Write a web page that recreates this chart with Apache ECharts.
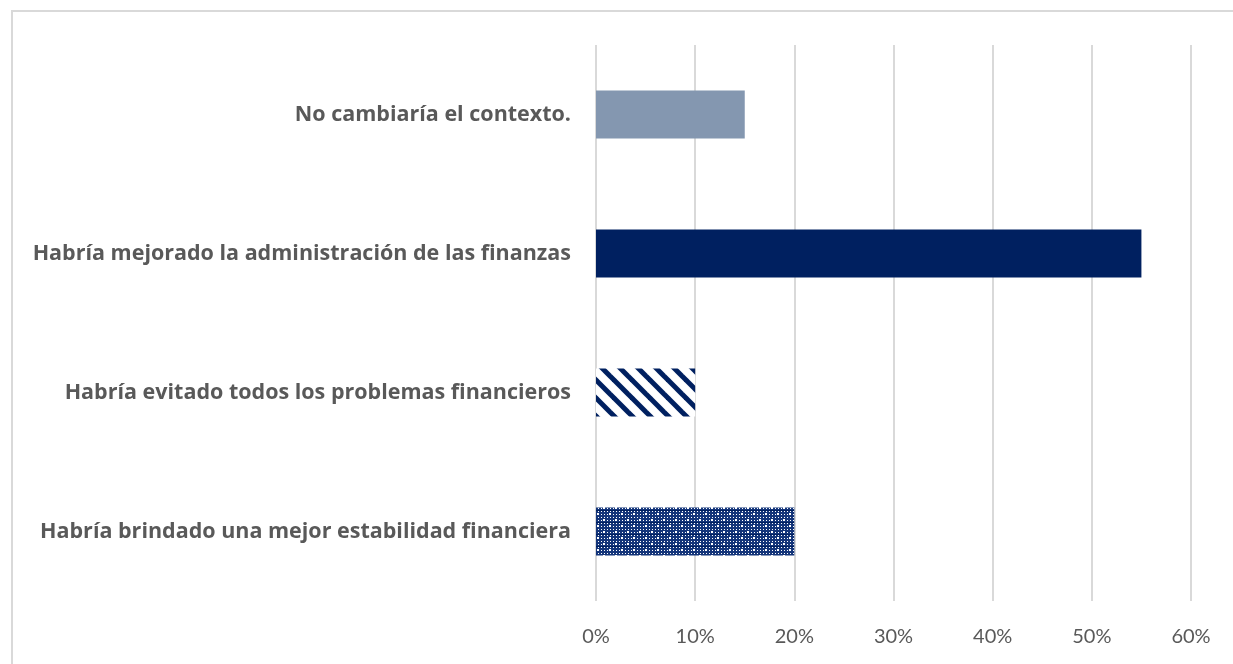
<!DOCTYPE html>
<html>
<head>
<meta charset="utf-8">
<script src="https://cdn.jsdelivr.net/npm/echarts@6/dist/echarts.min.js"></script>
<style>
  html, body { margin: 0; padding: 0; background: #fff; }
  #main { width: 1233px; height: 664px; }
</style>
</head>
<body>
<div id="main"></div>
<script>
// categorias de arriba hacia abajo
var categories = [
  "No cambiaría el contexto.",
  "Habría mejorado la administración de las finanzas",
  "Habría evitado todos los problemas financieros",
  "Habría brindado una mejor estabilidad financiera"
];
var values = [0.15, 0.55, 0.10, 0.20];
var tickLabels = ["0%", "10%", "20%", "30%", "40%", "50%", "60%"];

// trama de rayas diagonales
function stripePattern() {
  var c = document.createElement("canvas");
  c.width = 18; c.height = 18;
  var ctx = c.getContext("2d");
  ctx.fillStyle = "#fff";
  ctx.fillRect(0, 0, 18, 18);
  ctx.strokeStyle = "#002060";
  ctx.lineWidth = 5;
  for (var k = -2; k <= 2; k++) {
    ctx.beginPath();
    ctx.moveTo(k * 18 - 2, -2);
    ctx.lineTo(k * 18 + 20, 20);
    ctx.stroke();
  }
  return c;
}

// trama de puntos
function dotPattern() {
  var c = document.createElement("canvas");
  c.width = 12; c.height = 12;
  var ctx = c.getContext("2d");
  ctx.fillStyle = "#14357a";
  ctx.fillRect(0, 0, 12, 12);
  ctx.fillStyle = "#ffffff";
  for (var x = 0; x < 12; x += 3) {
    for (var y = 0; y < 12; y += 3) {
      ctx.fillRect(x + 1, y + 1, 1, 1);
    }
  }
  ctx.fillRect(3, 3, 2, 2);
  ctx.fillRect(9, 9, 2, 2);
  ctx.fillStyle = "#002060";
  ctx.fillRect(0, 6, 12, 1);
  return c;
}

var barStyles = [
  { color: "#8497B0" },
  { color: "#002060" },
  { color: { image: stripePattern(), repeat: "repeat" } },
  { color: { image: dotPattern(), repeat: "repeat" } }
];

var myChart = echarts.init(document.getElementById("main"));

var option = {
  animation: false,
  backgroundColor: "#fff",
  graphic: [
    {
      type: "rect",
      shape: { x: 12, y: 11, width: 1260, height: 700 },
      style: { fill: "none", stroke: "#D9D9D9", lineWidth: 2 },
      silent: true
    }
  ],
  grid: {
    left: 596,
    right: 42,
    top: 45,
    bottom: 63
  },
  xAxis: {
    type: "value",
    min: 0,
    max: 0.6,
    interval: 0.1,
    axisLine: { show: false },
    axisTick: { show: false },
    splitLine: { lineStyle: { color: "#D9D9D9", width: 2 } },
    axisLabel: {
      margin: 26,
      color: "#595959",
      fontSize: 20,
      fontFamily: "Lato",
      formatter: function (v) {
        return tickLabels[Math.round(v * 10)];
      }
    }
  },
  yAxis: {
    type: "category",
    inverse: true,
    data: categories,
    axisLine: { show: false },
    axisTick: { show: false },
    axisLabel: {
      margin: 25,
      color: "#595959",
      fontSize: 21.5,
      fontWeight: "bold",
      fontFamily: "Open Sans"
    }
  },
  series: [
    {
      type: "bar",
      barWidth: 48,
      data: values.map(function (v, i) {
        return { value: v, itemStyle: barStyles[i] };
      })
    }
  ]
};
myChart.setOption(option);
</script>
</body>
</html>
